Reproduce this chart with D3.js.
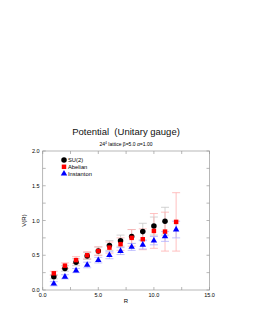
<!DOCTYPE html>
<html lang="en">
<head>
<meta charset="UTF-8">
<title>Potential (Unitary gauge)</title>
<script src="https://d3js.org/d3.v7.min.js"></script>
<style>
  body { margin: 0; background: #fff; }
  svg { display: block; font-family: "Liberation Sans", Arial, sans-serif; }
  text { white-space: pre; }
</style>
</head>
<body>
<div id="chart"></div>
<script>
// data
const rValues = [1, 2, 3, 4, 5, 6, 7, 8, 9, 10, 11, 12];
const su2V     = [0.19, 0.31, 0.40, 0.49, 0.56, 0.64, 0.71, 0.77, 0.84, 0.92, 0.99];
const su2Err   = [0.03, 0.04, 0.05, 0.05, 0.06, 0.07, 0.08, 0.10, 0.12, 0.13, 0.20];
const abelV    = [0.24, 0.35, 0.43, 0.50, 0.56, 0.61, 0.66, 0.75, 0.73, 0.85, 0.84, 0.98];
const abelErr  = [0.03, 0.04, 0.05, 0.05, 0.06, 0.08, 0.09, 0.12, 0.15, 0.25, 0.28, 0.42];
const instV    = [0.09, 0.19, 0.28, 0.36, 0.43, 0.50, 0.56, 0.62, 0.65, 0.71, 0.77, 0.87];
const instErr  = [0.03, 0.03, 0.03, 0.04, 0.04, 0.05, 0.05, 0.05, 0.06, 0.06, 0.07, 0.12];
const xTicks = [0, 5, 10, 15];
const yTicks = [0, 0.5, 1.0, 1.5, 2.0];
const seriesNames = ["SU(2)", "Abelian", "Instanton"];

const width = 253, height = 327;
const svg = d3.select("#chart").append("svg")
  .attr("width", width).attr("height", height);

const x = d3.scaleLinear().domain([0, 15]).range([42.7, 209.5]);
const y = d3.scaleLinear().domain([0, 2]).range([290, 151]);

// titles
svg.append("text").attr("x", 126).attr("y", 135)
  .attr("text-anchor", "middle").attr("font-size", 9.5).attr("fill", "#111")
  .text("Potential  (Unitary gauge)");
const sub = svg.append("text").attr("x", 126).attr("y", 146)
  .attr("text-anchor", "middle").attr("font-size", 5);
sub.append("tspan").text("24");
sub.append("tspan").attr("dy", -2).attr("font-size", 3.5).text("4");
sub.append("tspan").attr("dy", 2).text(" lattice \u03b2=5.0 \u03b1=1.00");

// frame
svg.append("rect")
  .attr("x", x(0)).attr("y", y(2))
  .attr("width", x(15) - x(0)).attr("height", y(0) - y(2))
  .attr("fill", "none").attr("stroke", "#999").attr("stroke-width", 0.7);

// ticks on all sides (inward)
const xt = d3.range(0, 15.01, 2.5);
const yt = d3.range(0, 2.01, 0.25);
const tk = svg.append("g").attr("stroke", "#999").attr("stroke-width", 0.7);
xt.forEach(v => {
  tk.append("line").attr("x1", x(v)).attr("x2", x(v)).attr("y1", y(0)).attr("y2", y(0) - 3);
  tk.append("line").attr("x1", x(v)).attr("x2", x(v)).attr("y1", y(2)).attr("y2", y(2) + 3);
});
yt.forEach(v => {
  tk.append("line").attr("y1", y(v)).attr("y2", y(v)).attr("x1", x(0)).attr("x2", x(0) + 3);
  tk.append("line").attr("y1", y(v)).attr("y2", y(v)).attr("x1", x(15)).attr("x2", x(15) - 3);
});

svg.append("g").selectAll("text").data(xTicks).join("text")
  .attr("x", d => x(d)).attr("y", y(0) + 7)
  .attr("text-anchor", "middle").attr("font-size", 5.5)
  .text(d => d.toFixed(1));
svg.append("g").selectAll("text").data(yTicks).join("text")
  .attr("x", x(0) - 3).attr("y", d => y(d) + 2)
  .attr("text-anchor", "end").attr("font-size", 5.5)
  .text(d => d.toFixed(1));

svg.append("text").attr("x", 126).attr("y", 303)
  .attr("text-anchor", "middle").attr("font-size", 6).text("R");
svg.append("text").attr("transform", `translate(26,${y(1)}) rotate(-90)`)
  .attr("text-anchor", "middle").attr("font-size", 6).text("V(R)");

// error bars
function errBars(vals, errs, color) {
  const g = svg.append("g").attr("stroke", color).attr("stroke-width", 0.8);
  vals.forEach((v, i) => {
    const cx = x(rValues[i]), lo = y(v - errs[i]), hi = y(v + errs[i]);
    g.append("line").attr("x1", cx).attr("x2", cx).attr("y1", lo).attr("y2", hi);
    g.append("line").attr("x1", cx - 4).attr("x2", cx + 4).attr("y1", lo).attr("y2", lo);
    g.append("line").attr("x1", cx - 4).attr("x2", cx + 4).attr("y1", hi).attr("y2", hi);
  });
}
errBars(su2V, su2Err, "#c8c8c8");
errBars(abelV, abelErr, "#ffb0b0");
errBars(instV, instErr, "#b0b0ff");

const circ = d3.symbol().type(d3.symbolCircle).size(24);
const sq = d3.symbol().type(d3.symbolSquare).size(20);
const tri = d3.symbol().type(d3.symbolTriangle).size(18);

svg.append("g").selectAll("path").data(su2V).join("path")
  .attr("d", circ).attr("fill", "#000")
  .attr("transform", (d, i) => `translate(${x(rValues[i])},${y(d)})`);
svg.append("g").selectAll("path").data(abelV).join("path")
  .attr("d", sq).attr("fill", "#f00")
  .attr("transform", (d, i) => `translate(${x(rValues[i])},${y(d)})`);
svg.append("g").selectAll("path").data(instV).join("path")
  .attr("d", tri).attr("fill", "#00f")
  .attr("transform", (d, i) => `translate(${x(rValues[i])},${y(d)})`);

// legend
const leg = svg.append("g").attr("transform", "translate(64,160)");
const legSyms = [circ, sq, tri], legCols = ["#000", "#f00", "#00f"];
seriesNames.forEach((n, i) => {
  leg.append("path").attr("d", legSyms[i]).attr("fill", legCols[i])
    .attr("transform", `translate(0,${i * 6.8})`);
  leg.append("text").attr("x", 4).attr("y", i * 6.8 + 2).attr("font-size", 5.8).text(n);
});
</script>
</body>
</html>
